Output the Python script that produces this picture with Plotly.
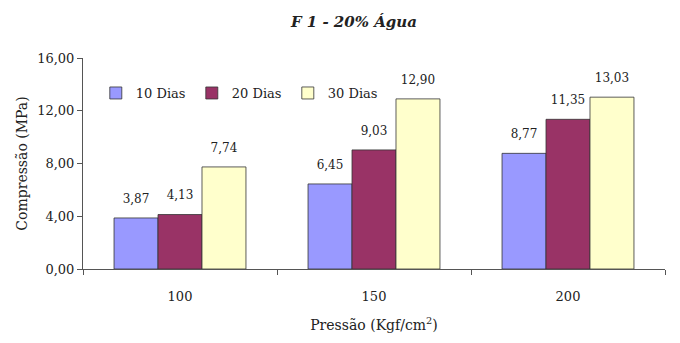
import plotly.graph_objects as go

categories = ["100", "150", "200"]
series_names = ["10 Dias", "20 Dias", "30 Dias"]
values_10 = [3.87, 6.45, 8.77]
values_20 = [4.13, 9.03, 11.35]
values_30 = [7.74, 12.90, 13.03]
colors = ["#9999FF", "#993366", "#FFFFCC"]
y_ticks = [0, 4, 8, 12, 16]

font_family = "DejaVu Serif"

fig = go.Figure()
series = list(zip(series_names, [values_10, values_20, values_30], colors))
for name, vals, col in series:
    fig.add_trace(go.Bar(
        x=categories, y=vals, name=name,
        marker=dict(color=col, line=dict(color="#333333", width=0.8)),
    ))
# value labels: grouped text-only scatter traces, aligned with the bars
for name, vals, col in series:
    fig.add_trace(go.Scatter(
        x=categories, y=vals, name=name, showlegend=False, hoverinfo="skip",
        mode="markers+text", marker=dict(size=18, opacity=0),
        text=[f"{v:.2f}".replace(".", ",") for v in vals],
        textposition="top center", cliponaxis=False,
        textfont=dict(family=font_family, size=12, color="#222222"),
    ))

# page body has an 8px default margin, so the figure is sized to fit the window
fig.update_layout(
    width=664, height=327,
    margin=dict(l=75, r=7, t=50, b=66, autoexpand=False),
    paper_bgcolor="white", plot_bgcolor="white",
    barmode="group", bargap=0.32, bargroupgap=0.0,
    scattermode="group", scattergap=0.32,
    separators=",.",
    font=dict(family=font_family, size=13, color="#222222"),
    title=dict(text="<b><i>F 1 - 20% Água</i></b>", x=0.521, xanchor="center",
               y=0.957, yanchor="middle", font=dict(size=15)),
    legend=dict(orientation="h", x=0.022, y=0.834, xanchor="left", yanchor="middle",
                bgcolor="rgba(0,0,0,0)", font=dict(size=13), itemwidth=30,
                entrywidth=51, entrywidthmode="pixels"),
    xaxis=dict(
        title=dict(text="Pressão (Kgf/cm<sup>2</sup>)", standoff=17,
                   font=dict(size=14)),
        showline=True, linecolor="#555555", linewidth=1,
        ticks="outside", tickson="boundaries", ticklen=5, tickcolor="#555555",
        ticklabelstandoff=15,
        showgrid=False,
    ),
    yaxis=dict(
        title=dict(text="Compressão (MPa)", standoff=6, font=dict(size=14)),
        range=[0, 16], tickvals=y_ticks, tickformat=".2f",
        showline=True, linecolor="#555555", linewidth=1,
        ticks="outside", ticklen=5, tickcolor="#555555",
        showgrid=False, zeroline=False,
    ),
)

fig.write_html("out.html")
